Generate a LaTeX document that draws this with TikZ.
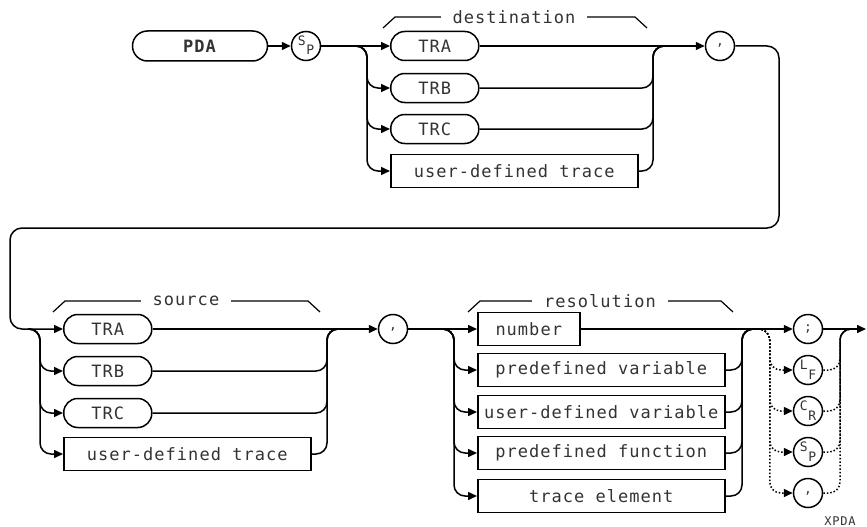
\documentclass[tikz,border=0pt]{standalone}
\usepackage{fontspec}
\setmainfont[LetterSpace=6]{DejaVu Sans Mono}
\usetikzlibrary{arrows.meta,positioning}

\newcommand{\sublbl}[2]{\raisebox{1pt}[0pt][0pt]{#1}\kern0.5pt\raisebox{-9pt}[0pt][0pt]{#2}}
\newcommand{\midcomma}{\raisebox{0pt}[0pt][0pt]{,}}

\begin{document}
\begin{tikzpicture}[x=1pt,y=-1pt,
  line width=1.5pt,
  font=\fontsize{17}{17}\selectfont,text=black!80,
  kw/.style={draw=black,rounded corners=14pt,minimum width=88pt,minimum height=29pt,inner sep=0pt},
  item/.style={draw=black,rectangle,minimum width=247pt,minimum height=33pt,inner sep=0pt},
  lit/.style={draw=black,circle,minimum size=29pt,inner sep=0pt,font=\fontsize{13}{13}\selectfont},
  flow/.style={-{Triangle[length=9pt,width=8pt]},rounded corners=11pt},
  merge/.style={rounded corners=11pt},
  opt/.style={dotted},
  brk/.style={line width=1.2pt},
  grp/.style={fill=white,inner xsep=12pt,inner ysep=1pt}]
\useasboundingbox (0,0) rectangle (867,527);

% first line: PDA SP destination ,
\node[kw,minimum width=135pt,minimum height=30pt,rounded corners=15pt] (pda) at (200,46) {\textbf{PDA}};
\node[lit] (sp) at (306,46) {\sublbl{S}{P}};
\node[kw,anchor=west] (dtra) at (390,46) {TRA};
\node[kw,anchor=west] (dtrb) at (390,88) {TRB};
\node[kw,anchor=west] (dtrc) at (390,129) {TRC};
\node[item,anchor=west] (dudt) at (390,171) {user-defined trace};
\node[lit] (comma1) at (720,46) {\midcomma};
\draw[brk] (383,28) -- (395,17) -- (635,17) -- (647,28);
\node[grp] (dlbl) at (514,17) {destination};

\coordinate (dsplit) at (355,46);
\coordinate (djoin) at (665,46);
\draw[flow] (pda) -- (sp);
\draw[flow] (sp) -- (dtra);
\foreach \n in {dtrb,dtrc,dudt}
  \draw[flow] (dsplit) -| ([xshift=-23pt]\n.west) -- (\n.west);
\draw[flow] (dtra) -- (comma1);
\foreach \n in {dtrb,dtrc,dudt}
  \draw[merge] (\n.east) -| ([xshift=-12pt]djoin) -- (djoin);

% wrap to second line
\coordinate (wrapr) at (779,228);
\coordinate (wrapl) at (10,329);

% source
\node[kw,anchor=west] (stra) at (63,329) {TRA};
\node[kw,anchor=west] (strb) at (63,371) {TRB};
\node[kw,anchor=west] (strc) at (63,413) {TRC};
\node[item,anchor=west] (sudt) at (63,454) {user-defined trace};
\node[lit] (comma2) at (393,329) {\midcomma};
\draw[brk] (53,312) -- (65,301) -- (308,301) -- (320,312);
\node[grp] (slbl) at (186,301) {source};

\draw[flow,rounded corners=12pt] (comma1) -| (wrapr) -| (wrapl) -- (stra);

\coordinate (ssplit) at (28,329);
\coordinate (sjoin) at (339,329);
\foreach \n in {strb,strc,sudt}
  \draw[flow] (ssplit) -| ([xshift=-23pt]\n.west) -- (\n.west);
\draw[flow] (stra) -- (comma2);
\foreach \n in {strb,strc,sudt}
  \draw[merge] (\n.east) -| ([xshift=-12pt]sjoin) -- (sjoin);

% resolution
\node[item,anchor=west,minimum width=102pt] (rnum) at (477,329) {number};
\node[item,anchor=west] (rpvar) at (477,370) {predefined variable};
\node[item,anchor=west] (ruvar) at (477,412) {user-defined variable};
\node[item,anchor=west] (rpfun) at (477,453) {predefined function};
\node[item,anchor=west] (relem) at (477,496) {trace element};
\draw[brk] (468,312) -- (480,301) -- (721,301) -- (733,312);
\node[grp] (rlbl) at (600,301) {resolution};

\coordinate (rsplit) at (442,329);
\coordinate (rjoin) at (754,329);
\draw[flow] (comma2) -- (rnum);
\foreach \n in {rpvar,ruvar,rpfun,relem}
  \draw[flow] (rsplit) -| ([xshift=-23pt]\n.west) -- (\n.west);
\foreach \n in {rpvar,ruvar,rpfun,relem}
  \draw[merge] (\n.east) -| ([xshift=-12pt]rjoin) -- (rjoin);

% terminators
\node[lit] (tsemi) at (808,329) {;};
\node[lit] (tlf) at (808,370) {\sublbl{L}{F}};
\node[lit] (tcr) at (808,411) {\sublbl{C}{R}};
\node[lit] (tsp) at (808,452) {\sublbl{S}{P}};
\node[lit] (tcomma) at (808,493) {\midcomma};
\node[font=\fontsize{12}{12}\selectfont] (tag) at (840,521) {XPDA};

\coordinate (tsplit) at (758,329);
\coordinate (tjoin) at (852,329);
\coordinate (tend) at (866,329);
\draw[flow] (rnum) -- (tsemi);
\draw[flow] (tsemi) -- (tend);
\foreach \n in {tlf,tcr,tsp,tcomma}
  \draw[flow,opt] (tsplit) -| ([xshift=-23pt]\n.west) -- (\n.west);
\foreach \n in {tlf,tcr,tsp,tcomma}
  \draw[merge,opt] (\n.east) -| ([xshift=-12pt]tjoin) -- (tjoin);
\end{tikzpicture}
\end{document}
